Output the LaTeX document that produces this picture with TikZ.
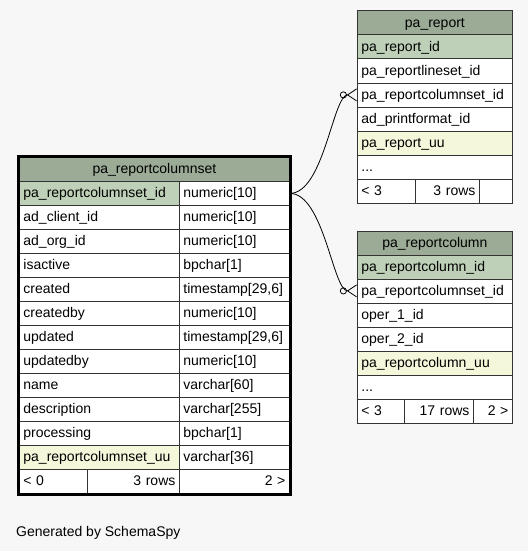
\documentclass[tikz,border=0pt]{standalone}
\usepackage{fontspec}
\setmainfont{Liberation Sans}
\usepackage{xcolor}
\usetikzlibrary{positioning,arrows.meta,fit}
\definecolor{hdrgreen}{HTML}{9BAB96}
\definecolor{pkgreen}{HTML}{BED1B8}
\definecolor{idxyellow}{HTML}{F4F7DA}
\definecolor{bggray}{HTML}{F7F7F7}

\begin{document}
\begin{tikzpicture}[x=1pt, y=-1pt,
  tcell/.style={draw=black!80, line width=0.8pt, fill=white, anchor=north west, minimum height=24pt,
    inner xsep=4pt, inner ysep=0pt, text height=10.5pt, text depth=2pt, font=\fontsize{14}{16}\selectfont},
  lcell/.style={tcell, text width=#1, align=left},
  rcell/.style={tcell, text width=#1, align=right},
  hdr/.style={tcell, fill=hdrgreen, minimum width=#1},
  fk/.style={-{Circle[open, length=7pt, width=7pt] Straight Barb[reversed, length=9pt, width=12pt]}, line width=0.8pt}
]
\fill[bggray] (0,0) rectangle (528,551);
\useasboundingbox (0,0) rectangle (528,551);

% pa_reportcolumnset
\node[hdr=270pt] (rcs-h) at (19,157) {pa\_reportcolumnset};
\foreach \f/\t/\c [count=\i] in {
  pa\_reportcolumnset\_id/numeric[10]/pkgreen,
  ad\_client\_id/numeric[10]/white,
  ad\_org\_id/numeric[10]/white,
  isactive/bpchar[1]/white,
  created/{timestamp[29,6]}/white,
  createdby/numeric[10]/white,
  updated/{timestamp[29,6]}/white,
  updatedby/numeric[10]/white,
  name/varchar[60]/white,
  description/varchar[255]/white,
  processing/bpchar[1]/white,
  pa\_reportcolumnset\_uu/varchar[36]/idxyellow} {
  \node[lcell=152pt, fill=\c] (rcs-f\i) at (19,{181+24*(\i-1)}) {\f};
  \node[lcell=102pt] (rcs-t\i) at (179,{181+24*(\i-1)}) {\t};
}
\node[lcell=60pt] (rcs-prev) at (19,469) {< 0};
\node[rcell=84pt] (rcs-rows) at (87,469) {3 rows};
\node[rcell=102pt] (rcs-next) at (179,469) {2 >};
\node[draw, line width=3pt, inner sep=1pt, fit=(rcs-h)(rcs-prev)(rcs-next)] (rcs) {};

% pa_report
\node[hdr=155pt] (rep-h) at (357,10.5) {pa\_report};
\foreach \f/\c [count=\i] in {
  pa\_report\_id/pkgreen,
  pa\_reportlineset\_id/white,
  pa\_reportcolumnset\_id/white,
  ad\_printformat\_id/white,
  pa\_report\_uu/idxyellow} {
  \node[lcell=147pt, fill=\c] (rep-f\i) at (357,{34.5+24*(\i-1)}) {\f};
}
\node[lcell=147pt] (rep-more) at (357,154.5) {...};
\node[lcell=50pt] (rep-prev) at (357,178.5) {< 3};
\node[rcell=56pt] (rep-rows) at (415,178.5) {3 rows};
\node[rcell=25pt] (rep-next) at (479,178.5) {};

% pa_reportcolumn
\node[hdr=155pt] (col-h) at (357,230.5) {pa\_reportcolumn};
\foreach \f/\c [count=\i] in {
  pa\_reportcolumn\_id/pkgreen,
  pa\_reportcolumnset\_id/white,
  oper\_1\_id/white,
  oper\_2\_id/white,
  pa\_reportcolumn\_uu/idxyellow} {
  \node[lcell=147pt, fill=\c] (col-f\i) at (357,{254.5+24*(\i-1)}) {\f};
}
\node[lcell=147pt] (col-more) at (357,374.5) {...};
\node[lcell=39pt] (col-prev) at (357,398.5) {< 3};
\node[rcell=61pt] (col-rows) at (404,398.5) {17 rows};
\node[rcell=31pt] (col-next) at (473,398.5) {2 >};

\draw[fk] (rcs-t1.east) .. controls +(34,0) and +(-24,0) .. (rep-f3.west);
\draw[fk] (rcs-t1.east) .. controls +(34,0) and +(-24,0) .. (col-f2.west);

\node[anchor=base west, inner sep=0pt, font=\fontsize{14}{16}\selectfont] (gen) at (16,536) {Generated by SchemaSpy};
\end{tikzpicture}
\end{document}
